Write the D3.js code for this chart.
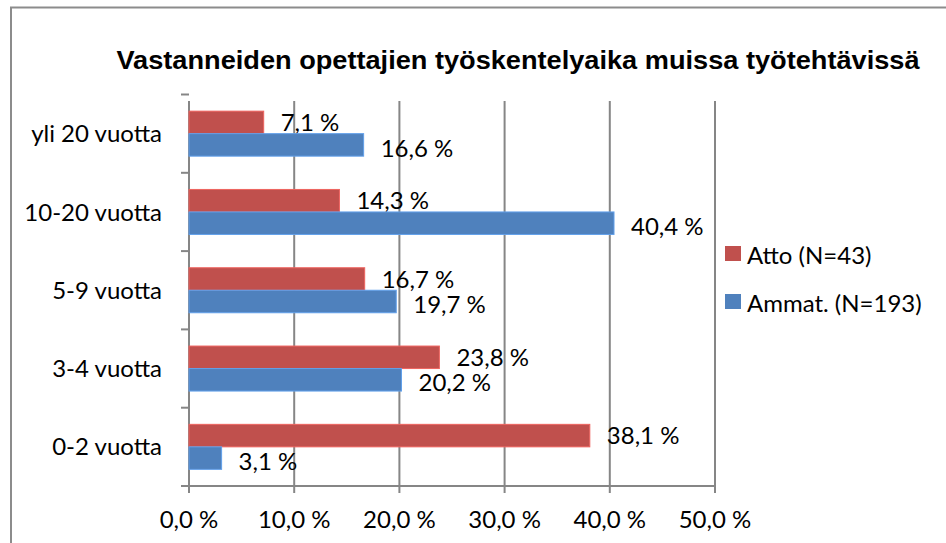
<!DOCTYPE html>
<html>
<head>
<meta charset="utf-8">
<script src="https://cdn.jsdelivr.net/npm/d3@7/dist/d3.min.js"></script>
<style>
  body { margin: 0; background: #fff; }
  svg { display: block; }
  .lbl { font-family: Lato, "Open Sans", sans-serif; font-size: 24px; fill: #000; }
</style>
</head>
<body>
<svg id="chart" width="946" height="543"></svg>
<script>
// categories, bottom to top as in the picture
var categories = ['0-2 vuotta', '3-4 vuotta', '5-9 vuotta', '10-20 vuotta', 'yli 20 vuotta'];
var seriesNames = ['Atto (N=43)', 'Ammat. (N=193)'];
var atto = [38.1, 23.8, 16.7, 14.3, 7.1];
var ammat = [3.1, 20.2, 19.7, 40.4, 16.6];
var xTicks = [0, 10, 20, 30, 40, 50];
var colors = ['#C0504D', '#4F81BD'];

var svg = d3.select('#chart');

var fmt = function (v) { return v.toFixed(1).replace('.', ',') + ' %'; };

// outer chart frame (only left and top edges are visible)
svg.append('path')
    .attr('d', 'M11,543 V7.5 H946')
    .attr('fill', 'none')
    .attr('stroke', '#8c8c8c')
    .attr('stroke-width', 2);

svg.append('text')
    .attr('x', 518)
    .attr('y', 69)
    .attr('text-anchor', 'middle')
    .attr('textLength', 803)
    .attr('lengthAdjust', 'spacingAndGlyphs')
    .style('font-family', '"Liberation Sans", Arial, sans-serif')
    .style('font-weight', 'bold')
    .style('font-size', '26px')
    .text('Vastanneiden opettajien työskentelyaika muissa työtehtävissä');

var x = d3.scaleLinear().domain([0, 50]).range([189, 715]);
var y = d3.scaleBand().domain(categories).range([486, 94.5]);
var inner = d3.scaleBand().domain([0, 1]).range([0, 45]);
var barOffset = (y.bandwidth() - 45) / 2;

// gridlines
svg.append('g').selectAll('line')
    .data(xTicks)
    .join('line')
    .attr('x1', function (d) { return x(d); })
    .attr('x2', function (d) { return x(d); })
    .attr('y1', 101)
    .attr('y2', 493)
    .attr('stroke', '#868686')
    .attr('stroke-width', 2);

// category axis ticks
svg.append('g').selectAll('line')
    .data(categories)
    .join('line')
    .attr('x1', 181).attr('x2', 189)
    .attr('y1', function (d) { return y(d); })
    .attr('y2', function (d) { return y(d); })
    .attr('stroke', '#868686')
    .attr('stroke-width', 2);
svg.append('line')
    .attr('x1', 181).attr('x2', 715)
    .attr('y1', 486).attr('y2', 486)
    .attr('stroke', '#868686').attr('stroke-width', 2);

svg.append('g').selectAll('text')
    .data(categories)
    .join('text')
    .attr('class', 'lbl')
    .attr('x', 162)
    .attr('y', function (d) { return y(d) + y.bandwidth() / 2; })
    .attr('dy', '0.36em')
    .attr('text-anchor', 'end')
    .text(function (d) { return d; });

svg.append('g').selectAll('text')
    .data(xTicks)
    .join('text')
    .attr('class', 'lbl')
    .attr('x', function (d) { return x(d); })
    .attr('y', 528)
    .attr('text-anchor', 'middle')
    .text(fmt);

// bars
var series = [atto, ammat];
var labelShift = [0, 3];
series.forEach(function (vals, si) {
    var g = svg.append('g');
    g.selectAll('rect')
        .data(vals)
        .join('rect')
        .attr('x', x(0))
        .attr('y', function (d, i) { return y(categories[i]) + barOffset + inner(si); })
        .attr('width', function (d) { return x(d) - x(0); })
        .attr('height', inner.bandwidth())
        .attr('fill', colors[si])
        .attr('stroke', d3.color(colors[si]).brighter(0.6))
        .attr('stroke-width', 1);
    g.selectAll('text')
        .data(vals)
        .join('text')
        .attr('class', 'lbl')
        .attr('x', function (d) { return x(d) + 17; })
        .attr('y', function (d, i) { return y(categories[i]) + barOffset + inner(si) + inner.bandwidth() / 2 + labelShift[si]; })
        .attr('dy', '0.36em')
        .text(fmt);
});

// legend
var legend = svg.append('g');
seriesNames.forEach(function (name, i) {
    legend.append('rect')
        .attr('x', 725)
        .attr('y', 246 + i * 48)
        .attr('width', 16)
        .attr('height', 15)
        .attr('fill', colors[i]);
    legend.append('text')
        .attr('class', 'lbl')
        .attr('x', 747)
        .attr('y', 255 + i * 48)
        .attr('dy', '0.36em')
        .text(name);
});
</script>
</body>
</html>
